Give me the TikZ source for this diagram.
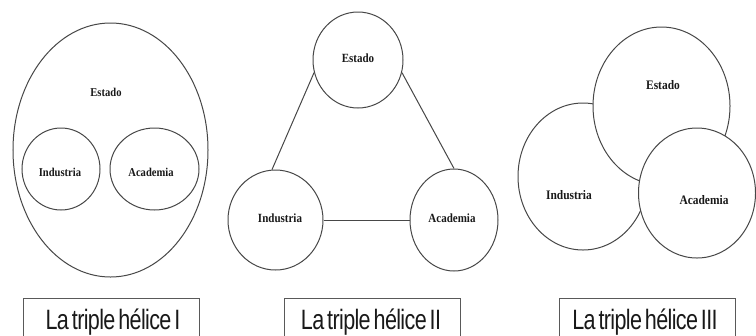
\documentclass[tikz,border=0pt]{standalone}
\usepackage{fontspec}
\setmainfont{Liberation Serif}
\newfontfamily\capfont[LetterSpace=-3,WordSpace=0.55]{Liberation Sans}
\usetikzlibrary{shapes.geometric}
\newcommand{\circtxt}[2]{\scalebox{0.88}[1]{\fontsize{#1}{#1}\selectfont\bfseries #2}}
\newcommand{\captxt}[1]{\scalebox{0.77}[1]{\fontsize{28bp}{30bp}\capfont #1}}
\begin{document}
\begin{tikzpicture}[x=1bp,y=-1bp,
  ring/.style={draw=black!72, line width=1bp, ellipse, inner sep=0pt, fill=white},
  link/.style={draw=black!72, line width=1bp},
  word/.style={inner sep=0pt, text=black!90},
  capbox/.style={draw=black!65, line width=0.9bp, minimum width=176bp, minimum height=46bp, inner sep=0pt, anchor=north}]
\useasboundingbox (0,0) rectangle (756,335);
\clip (0,0) rectangle (756,335);
% Panel I
\node[ring, minimum width=195bp, minimum height=254bp] (big) at (110.5,150) {};
\node[ring, minimum width=78bp, minimum height=82bp] (ind1) at (61,169) {};
\node[ring, minimum width=89bp, minimum height=82bp] (aca1) at (154.5,169) {};
\node[word] (est1t) at (106,92) {\circtxt{12bp}{Estado}};
\node[word] (ind1t) at (60,172) {\circtxt{12bp}{Industria}};
\node[word] (aca1t) at (151,172) {\circtxt{12bp}{Academia}};
% Panel II
\node[ring, minimum width=90bp, minimum height=96bp] (e2) at (358,60) {};
\node[ring, minimum width=95bp, minimum height=100bp] (i2) at (275.5,220) {};
\node[ring, minimum width=88bp, minimum height=102bp] (a2) at (454,220) {};
\draw[link] (e2.196) -- (i2.94);
\draw[link] (e2.-16) -- (a2.90);
\draw[link] (i2.east) -- (a2.west);
\node[word] (e2t) at (358,58) {\circtxt{12.5bp}{Estado}};
\node[word] (i2t) at (280,218) {\circtxt{12.5bp}{Industria}};
\node[word] (a2t) at (452,218) {\circtxt{12.5bp}{Academia}};
% Panel III
\node[ring, minimum width=130bp, minimum height=147bp] (i3) at (583,176.5) {};
\node[ring, minimum width=137bp, minimum height=158bp] (e3) at (661.5,106) {};
\node[ring, minimum width=117bp, minimum height=130bp] (a3) at (697,193) {};
\node[word] (e3t) at (663,85) {\circtxt{13bp}{Estado}};
\node[word] (i3t) at (569,195) {\circtxt{13bp}{Industria}};
\node[word] (a3t) at (704,200) {\circtxt{13bp}{Academia}};
% Captions
\node[capbox] (c1) at (111,298) {};
\node[capbox] (c2) at (372,298) {};
\node[capbox] (c3) at (647,298) {};
\node[word, anchor=base] (c1t) at (113,329) {\captxt{La triple hélice I}};
\node[word, anchor=base] (c2t) at (371,329) {\captxt{La triple hélice II}};
\node[word, anchor=base] (c3t) at (645,329) {\captxt{La triple hélice III}};
\end{tikzpicture}
\end{document}
